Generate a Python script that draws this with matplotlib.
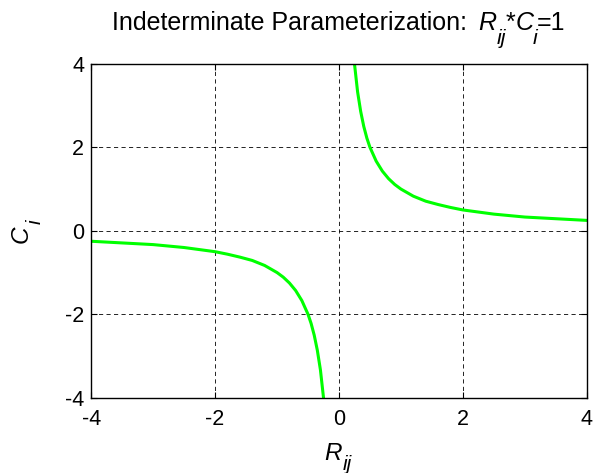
import matplotlib
matplotlib.use("Agg")
import matplotlib.pyplot as plt
from matplotlib.transforms import IdentityTransform

r_pos = [0.25, 0.3, 0.35, 0.4, 0.45, 0.5, 0.6, 0.7, 0.8, 0.9, 1.0, 1.2, 1.4, 1.6, 1.8, 2.0, 2.5, 3.0, 3.5, 4.0]
c_pos = [4.0, 3.33, 2.86, 2.5, 2.22, 2.0, 1.67, 1.43, 1.25, 1.11, 1.0, 0.83, 0.71, 0.63, 0.56, 0.5, 0.4, 0.33, 0.29, 0.25]
r_neg = [-4.0, -3.5, -3.0, -2.5, -2.0, -1.8, -1.6, -1.4, -1.2, -1.0, -0.9, -0.8, -0.7, -0.6, -0.5, -0.45, -0.4, -0.35, -0.3, -0.25]
c_neg = [-0.25, -0.29, -0.33, -0.4, -0.5, -0.56, -0.63, -0.71, -0.83, -1.0, -1.11, -1.25, -1.43, -1.67, -2.0, -2.22, -2.5, -2.86, -3.33, -4.0]
ticks = [-4, -2, 0, 2, 4]

# (text, italic, dropped as subscript, gap before) runs for the labels
title_runs = [("Indeterminate Parameterization:", False, False, 0),
              ("R", True, False, 11), ("ij", True, True, 0), ("*", False, False, 0),
              ("C", True, False, 0), ("i", True, True, -1), ("=1", False, False, -1)]
xlabel_runs = [("R", True, False, 0), ("ij", True, True, 1)]
ylabel_runs = [("C", True, False, 0), ("i", True, True, 1)]

plt.rcParams['font.family'] = ['Liberation Sans', 'DejaVu Sans']
plt.rcParams['axes.unicode_minus'] = False

fig = plt.figure(figsize=(6.0, 4.73), dpi=100, facecolor='white')
ax = fig.add_axes([0.152, 0.159, 0.826, 0.706])

ax.plot(r_pos, c_pos, color='#00ff00', lw=2.2, solid_joinstyle='round')
ax.plot(r_neg, c_neg, color='#00ff00', lw=2.2, solid_joinstyle='round')

ax.set_xlim(-4, 4)
ax.set_ylim(-4, 4)
ax.set_xticks(ticks)
ax.set_yticks(ticks)
ax.grid(True, color='black', linestyle=(0, (5, 4)), linewidth=0.6)
ax.tick_params(direction='in', length=4, width=0.8, top=True, right=True,
               labelsize=15.5)
ax.tick_params(axis='x', pad=8)
ax.tick_params(axis='y', pad=5)
for sp in ax.spines.values():
    sp.set_linewidth(1.0)


def draw_runs(center, base, runs, size, rotation=0, sub_scale=0.85, drop=13):
    # lay text pieces end to end in pixel space, centred on `center`,
    # subscripts nearly full size and lowered below the baseline
    r = fig.canvas.get_renderer()
    placed = []
    pos = 0.0
    for s, italic, sub, gap in runs:
        pos += gap
        t = fig.text(0, 0, s, transform=IdentityTransform(),
                     fontsize=size * (sub_scale if sub else 1.0),
                     style='italic' if italic else 'normal',
                     rotation=rotation, rotation_mode='anchor',
                     ha='left', va='baseline')
        placed.append((t, pos, drop if sub else 0))
        bb = t.get_window_extent(r)
        pos += bb.width if rotation == 0 else bb.height
    start = center - pos / 2
    for t, p, d in placed:
        if rotation == 0:
            t.set_position((start + p, base - d))
        else:
            t.set_position((base + d, start + p))


H = 473
mid_x = 338.5
mid_y = H - 231
draw_runs(mid_x, H - 30, title_runs, 18, drop=14)
draw_runs(mid_x, H - 460, xlabel_runs, 17.5, drop=10)
draw_runs(mid_y, 28, ylabel_runs, 17.5, rotation=90)

fig.savefig('out.png', dpi=100, facecolor='white')
